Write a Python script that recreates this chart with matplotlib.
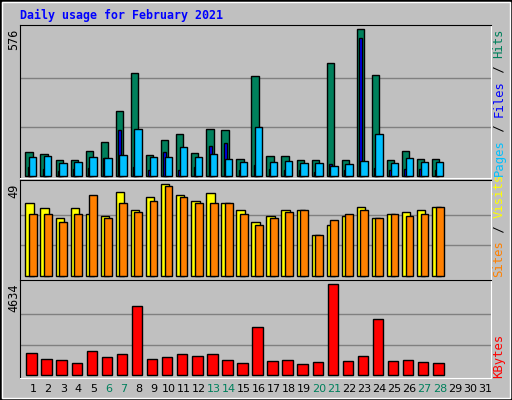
import matplotlib
matplotlib.use("Agg")
import matplotlib.pyplot as plt
from matplotlib.patches import Rectangle

days = list(range(1, 29))
hits = [93, 85, 62, 62, 97, 132, 254, 403, 81, 140, 164, 89, 183, 179, 65, 391, 77, 77, 62, 62, 442, 62, 576, 395, 62, 97, 65, 65]
files = [34, 26, 18, 26, 30, 69, 179, 34, 22, 93, 22, 34, 116, 128, 22, 42, 26, 22, 22, 14, 46, 22, 541, 30, 22, 26, 26, 22]
pages = [73, 77, 50, 54, 73, 69, 81, 183, 73, 73, 113, 73, 85, 65, 54, 191, 54, 58, 50, 50, 38, 46, 58, 164, 50, 69, 54, 54]
visits = [39, 36, 31, 36, 33, 32, 45, 35, 42, 49, 43, 40, 44, 39, 35, 29, 32, 35, 35, 22, 27, 32, 37, 31, 33, 34, 35, 37]
sites = [33, 33, 29, 33, 43, 31, 39, 34, 40, 48, 42, 39, 39, 39, 33, 27, 31, 34, 35, 22, 30, 33, 35, 31, 33, 32, 33, 37]
kbytes = [1120, 815, 764, 611, 1222, 916, 1069, 3513, 815, 916, 1069, 967, 1069, 764, 611, 2444, 713, 764, 560, 662, 4634, 713, 967, 2851, 713, 764, 662, 611]
weekend = [6, 7, 13, 14, 20, 21, 27, 28]

W, H = 512, 400
BG = "#C0C0C0"
MONO = "DejaVu Sans Mono"

fig = plt.figure(figsize=(W / 100, H / 100), dpi=100)
fig.patch.set_facecolor(BG)
fig.add_artist(Rectangle((0, 0), 1, 1, transform=fig.transFigure, fill=False, edgecolor="black", lw=2))
fig.add_artist(Rectangle((2 / W, 2 / H), 1 - 4 / W, 1 - 4 / H, transform=fig.transFigure, fill=False, edgecolor="white", lw=1))

x0, x1 = 20, 491
xlim = (0.13, 31.4)


def panel(top, bottom, vtop, vbase, vmax):
    ax = fig.add_axes([x0 / W, 1 - bottom / H, (x1 - x0) / W, (bottom - top) / H])
    ax.set_facecolor(BG)
    per = vmax / (vbase - vtop)
    ax.set_ylim(-(bottom - vbase) * per, vmax + (vtop - top) * per)
    ax.set_xlim(*xlim)
    for f in (1 / 3, 2 / 3):
        ax.axhline(vmax * f, color="#808080", lw=1, zorder=0)
    ax.set_xticks([])
    ax.set_yticks([])
    for s in ("top", "left"):
        ax.spines[s].set_color("black")
    for s in ("bottom", "right"):
        ax.spines[s].set_color("white")
    return ax


ec = dict(edgecolor="black", linewidth=1)
ax1 = panel(25, 178, 29, 176, 576)
ax1.bar([d - 0.265 for d in days], hits, width=0.49, color="#00805C", **ec)
ax1.bar([d - 0.25 for d in days], files, width=0.2, color="#0000FF", **ec)
ax1.bar([d - 0.025 for d in days], pages, width=0.49, color="#00C0FF", **ec)

ax2 = panel(180, 280, 184, 276, 49)
ax2.bar([d - 0.23 for d in days], visits, width=0.56, color="#FFFF00", **ec)
ax2.bar([d - 0.01 for d in days], sites, width=0.52, color="#FF8000", **ec)

ax3 = panel(280, 378, 284, 375, 4634)
ax3.bar([d - 0.1 for d in days], kbytes, width=0.7, color="#FF0000", **ec)

fig.text(20 / W, 1 - 15 / H, "Daily usage for February 2021", color="#0000FF",
         fontsize=8.4, fontweight="bold", family=MONO, va="center")
for y, s in ((29, "576"), (184, "49"), (284, "4634")):
    fig.text(14 / W, 1 - y / H, s, rotation=90, fontsize=8.5, family=MONO, ha="center", va="top")

RFS = 8.8
STEP = 0.602 * RFS * 100 / 72


def right_label(y_bottom, parts):
    y = y_bottom
    for txt, col in parts:
        fig.text(499 / W, 1 - y / H, txt, rotation=90, color=col, fontsize=RFS, family=MONO,
                 ha="center", va="bottom")
        y -= len(txt) * STEP


right_label(176, [("Pages", "#00C0FF"), (" / ", "black"), ("Files", "#0000FF"), (" / ", "black"), ("Hits", "#00805C")])
right_label(277, [("Sites", "#FF8000"), (" / ", "black"), ("Visits", "#FFFF00")])
right_label(378, [("KBytes", "#FF0000")])

for d in range(1, 32):
    xf = (x0 + (d - xlim[0]) / (xlim[1] - xlim[0]) * (x1 - x0)) / W
    fig.text(xf, 1 - 389 / H, str(d), color="#00805C" if d in weekend else "black",
             fontsize=8, family="DejaVu Sans", ha="center", va="center")

fig.savefig("out.png", dpi=100, facecolor=BG)
